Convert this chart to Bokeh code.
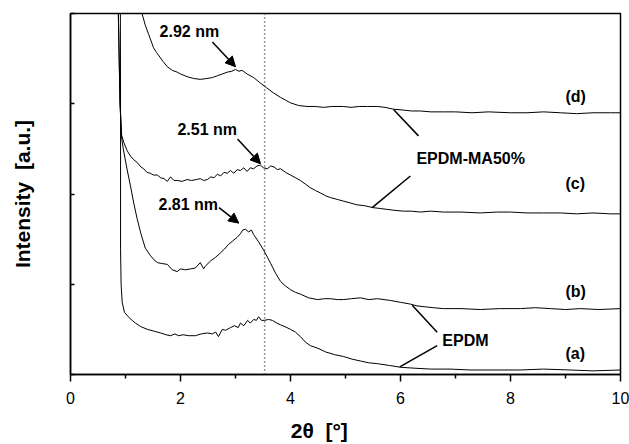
from bokeh.plotting import figure
from bokeh.models import Span, Arrow, NormalHead, Label, FixedTicker, Range1d
from bokeh.embed import file_html
from bokeh.resources import INLINE

# ---- data (2theta in degrees, intensity in arbitrary offset units) ----
x_a = [0.90, 0.91, 0.91, 0.92, 0.94, 0.98, 1.05, 1.12, 1.18, 1.28, 1.40, 1.52, 1.64, 1.74, 1.82,
       1.90, 1.96, 2.05, 2.15, 2.27, 2.38, 2.49, 2.58, 2.64, 2.69, 2.76, 2.82, 2.91, 2.98, 3.05,
       3.09, 3.15, 3.22, 3.27, 3.33, 3.38, 3.42, 3.47, 3.53, 3.60, 3.67, 3.75, 3.82, 3.90, 4.00,
       4.09, 4.18, 4.27, 4.36, 4.50, 4.64, 4.80, 4.96, 5.12, 5.27, 5.42, 5.58, 5.80, 6.00, 6.25,
       6.55, 6.90, 7.27, 7.70, 8.18, 8.60, 9.09, 9.50, 10.0]
y_a = [6.00, 3.00, 1.40, 1.00, 0.80, 0.69, 0.64, 0.60, 0.57, 0.53, 0.50, 0.48, 0.46, 0.44, 0.43,
       0.45, 0.43, 0.44, 0.43, 0.43, 0.45, 0.46, 0.45, 0.47, 0.42, 0.50, 0.49, 0.52, 0.54, 0.52,
       0.57, 0.54, 0.60, 0.57, 0.61, 0.60, 0.64, 0.60, 0.60, 0.61, 0.60, 0.57, 0.55, 0.53, 0.50,
       0.47, 0.42, 0.36, 0.32, 0.29, 0.25, 0.22, 0.20, 0.17, 0.15, 0.13, 0.12, 0.10, 0.08, 0.07,
       0.06, 0.06, 0.05, 0.05, 0.05, 0.06, 0.05, 0.04, 0.05]

x_b = [0.86, 0.87, 0.90, 0.93, 0.96, 1.02, 1.09, 1.15, 1.21, 1.28, 1.36, 1.45, 1.52, 1.58, 1.66,
       1.76, 1.85, 1.94, 2.00, 2.09, 2.18, 2.27, 2.36, 2.42, 2.45, 2.50, 2.55, 2.64, 2.73, 2.80,
       2.87, 2.95, 3.03, 3.09, 3.13, 3.18, 3.24, 3.29, 3.33, 3.42, 3.51, 3.58, 3.64, 3.73, 3.82,
       3.91, 4.00, 4.09, 4.18, 4.33, 4.49, 4.62, 4.73, 4.85, 4.96, 5.11, 5.27, 5.42, 5.58, 5.70,
       5.82, 6.00, 6.18, 6.30, 6.45, 6.60, 6.78, 7.10, 7.45, 7.80, 8.18, 8.45, 8.73, 9.00, 9.27,
       9.60, 10.0]
y_b = [6.00, 4.00, 3.00, 2.62, 2.50, 2.30, 2.09, 1.90, 1.73, 1.56, 1.40, 1.32, 1.27, 1.24, 1.23,
       1.22, 1.16, 1.14, 1.17, 1.16, 1.17, 1.18, 1.24, 1.17, 1.20, 1.23, 1.26, 1.30, 1.35, 1.39,
       1.44, 1.48, 1.52, 1.56, 1.60, 1.61, 1.58, 1.60, 1.55, 1.47, 1.38, 1.30, 1.23, 1.12, 1.03,
       0.98, 0.94, 0.91, 0.89, 0.85, 0.83, 0.84, 0.84, 0.83, 0.83, 0.84, 0.85, 0.83, 0.84, 0.83,
       0.82, 0.80, 0.78, 0.76, 0.75, 0.74, 0.73, 0.73, 0.72, 0.73, 0.73, 0.74, 0.73, 0.72, 0.73,
       0.72, 0.73]

x_c = [0.86, 0.87, 0.90, 0.93, 0.97, 1.03, 1.09, 1.15, 1.21, 1.28, 1.33, 1.39, 1.45, 1.51, 1.58,
       1.64, 1.70, 1.76, 1.82, 1.88, 1.94, 2.03, 2.12, 2.20, 2.29, 2.36, 2.42, 2.49, 2.55, 2.61,
       2.67, 2.73, 2.79, 2.85, 2.91, 2.97, 3.03, 3.09, 3.15, 3.21, 3.27, 3.33, 3.39, 3.45, 3.51,
       3.58, 3.64, 3.70, 3.76, 3.82, 3.91, 4.00, 4.09, 4.18, 4.27, 4.36, 4.45, 4.55, 4.64, 4.73,
       4.85, 4.97, 5.09, 5.21, 5.35, 5.49, 5.62, 5.75, 5.88, 6.05, 6.20, 6.36, 6.55, 6.78, 7.10,
       7.45, 7.75, 8.00, 8.30, 8.60, 8.91, 9.20, 9.50, 9.82, 10.0]
y_c = [6.00, 4.00, 3.00, 2.65, 2.57, 2.48, 2.42, 2.38, 2.35, 2.30, 2.28, 2.24, 2.23, 2.21, 2.21,
       2.18, 2.17, 2.14, 2.19, 2.15, 2.15, 2.14, 2.16, 2.15, 2.16, 2.17, 2.15, 2.16, 2.19, 2.18,
       2.22, 2.20, 2.24, 2.23, 2.26, 2.23, 2.27, 2.26, 2.29, 2.25, 2.29, 2.28, 2.31, 2.32, 2.29,
       2.28, 2.31, 2.30, 2.27, 2.28, 2.24, 2.21, 2.18, 2.15, 2.11, 2.07, 2.04, 2.01, 1.98, 1.96,
       1.94, 1.92, 1.90, 1.88, 1.87, 1.85, 1.84, 1.83, 1.82, 1.81, 1.81, 1.80, 1.81, 1.80, 1.80,
       1.79, 1.80, 1.80, 1.79, 1.79, 1.79, 1.78, 1.79, 1.78, 1.78]

x_d = [1.24, 1.30, 1.36, 1.42, 1.45, 1.51, 1.56, 1.61, 1.68, 1.76, 1.85, 1.94, 2.00, 2.12, 2.24,
       2.36, 2.48, 2.58, 2.67, 2.76, 2.85, 2.93, 3.00, 3.06, 3.12, 3.21, 3.33, 3.45, 3.56, 3.69,
       3.82, 3.91, 4.00, 4.15, 4.30, 4.45, 4.60, 4.75, 4.96, 5.10, 5.25, 5.40, 5.58, 5.72, 5.87,
       6.05, 6.20, 6.36, 6.55, 6.78, 7.00, 7.30, 7.60, 8.00, 8.30, 8.60, 8.91, 9.20, 9.50, 9.82,
       10.0]
y_d = [4.30, 4.00, 3.87, 3.77, 3.72, 3.62, 3.57, 3.53, 3.47, 3.41, 3.37, 3.35, 3.33, 3.30, 3.28,
       3.27, 3.28, 3.29, 3.31, 3.33, 3.35, 3.36, 3.38, 3.36, 3.37, 3.33, 3.29, 3.23, 3.18, 3.12,
       3.07, 3.04, 3.01, 2.98, 2.97, 2.97, 2.96, 2.97, 2.97, 2.96, 2.97, 2.97, 2.97, 2.96, 2.94,
       2.93, 2.92, 2.92, 2.91, 2.91, 2.91, 2.90, 2.91, 2.90, 2.90, 2.91, 2.90, 2.89, 2.90, 2.90,
       2.90]

x_ticks = [0, 2, 4, 6, 8, 10]
x_minor = [1, 3, 5, 7, 9]
y_ticks = [0, 1, 2, 3, 4]
d_spacing_line = 3.53

curve_names = ["(a)", "(b)", "(c)", "(d)"]
peak_labels = ["2.92 nm", "2.51 nm", "2.81 nm"]
sample_labels = ["EPDM-MA50%", "EPDM"]

FONT = "Liberation Sans"
NB = "\u00a0"

p = figure(width=629, height=444, output_backend="svg", toolbar_location=None,
           x_range=Range1d(0, 10), y_range=Range1d(0, 4),
           min_border_left=70, min_border_right=9, min_border_top=13, min_border_bottom=66)
p.background_fill_color = "white"
p.border_fill_color = "white"
p.xgrid.visible = False
p.ygrid.visible = False
p.outline_line_color = "black"
p.outline_line_width = 1.5

xa = p.xaxis[0]
xa.ticker = FixedTicker(ticks=x_ticks, minor_ticks=x_minor)
xa.major_tick_in = 0
xa.major_tick_out = 7
xa.minor_tick_in = 0
xa.minor_tick_out = 4
xa.major_tick_line_width = 1.5
xa.minor_tick_line_width = 1.5
xa.axis_line_width = 1.5
xa.major_label_standoff = 10
xa.major_label_text_font = FONT
xa.major_label_text_font_size = "16px"
xa.major_label_text_color = "black"
# trailing no-break spaces shift the centred label left, as in the original
xa.axis_label = "2θ" + NB + NB + "[°]" + NB * 9
xa.axis_label_text_font = FONT
xa.axis_label_text_font_style = "bold"
xa.axis_label_text_font_size = "21px"
xa.axis_label_text_color = "black"
xa.axis_label_standoff = 12

ya = p.yaxis[0]
ya.ticker = FixedTicker(ticks=y_ticks, minor_ticks=[])
ya.major_tick_in = 4
ya.major_tick_out = 0
ya.minor_tick_in = 0
ya.minor_tick_out = 0
ya.major_tick_line_width = 1.5
ya.axis_line_width = 1.5
ya.major_label_text_font_size = "0px"
ya.major_label_standoff = 0
ya.axis_label = "Intensity" + NB + NB + "[a.u.]"
ya.axis_label_text_font = FONT
ya.axis_label_text_font_style = "bold"
ya.axis_label_text_font_size = "21px"
ya.axis_label_text_color = "black"
ya.axis_label_standoff = 37

# dotted reference line
p.add_layout(Span(location=d_spacing_line, dimension="height", line_color="#333333",
                  line_width=1.5, line_dash="1 3"))

for xs, ys in [(x_a, y_a), (x_b, y_b), (x_c, y_c), (x_d, y_d)]:
    p.line(xs, ys, line_color="black", line_width=1.0)

# curve labels
curve_label_pos = [(9.0, 0.23), (9.0, 0.92), (9.0, 2.115), (9.0, 3.08)]
for name, (lx, ly) in zip(curve_names, curve_label_pos):
    p.add_layout(Label(x=lx, y=ly, text=name, text_font=FONT, text_font_style="bold",
                       text_font_size="16px", text_baseline="middle", text_align="left",
                       text_color="black"))

# peak labels with arrows
peak_label_pos = [(1.62, 3.80), (1.945, 2.71), (1.60, 1.88)]
for name, (lx, ly) in zip(peak_labels, peak_label_pos):
    p.add_layout(Label(x=lx, y=ly, text=name, text_font=FONT, text_font_style="bold",
                       text_font_size="16px", text_baseline="middle", text_align="left",
                       text_color="black"))

arrows = [((2.58, 3.685), (3.00, 3.41)),
          ((3.036, 2.61), (3.455, 2.334)),
          ((2.70, 1.849), (3.06, 1.677))]
for (x0, y0), (x1, y1) in arrows:
    p.add_layout(Arrow(x_start=x0, y_start=y0, x_end=x1, y_end=y1, line_width=1.5,
                       line_color="black",
                       end=NormalHead(size=10, fill_color="black", line_color="black")))

# sample labels with leader lines
sample_label_pos = [(6.29, 2.39), (6.76, 0.376)]
for name, (lx, ly) in zip(sample_labels, sample_label_pos):
    p.add_layout(Label(x=lx, y=ly, text=name, text_font=FONT, text_font_style="bold",
                       text_font_size="16px", text_baseline="middle", text_align="left",
                       text_color="black"))

lead_x0 = [5.873, 6.18, 6.213, 6.667]
lead_y0 = [2.937, 2.199, 0.767, 0.321]
lead_x1 = [6.327, 5.485, 6.667, 5.987]
lead_y1 = [2.644, 1.849, 0.468, 0.084]
p.segment(lead_x0, lead_y0, lead_x1, lead_y1, line_color="black", line_width=1.5)

open("out.html", "w").write(file_html(p, INLINE))
